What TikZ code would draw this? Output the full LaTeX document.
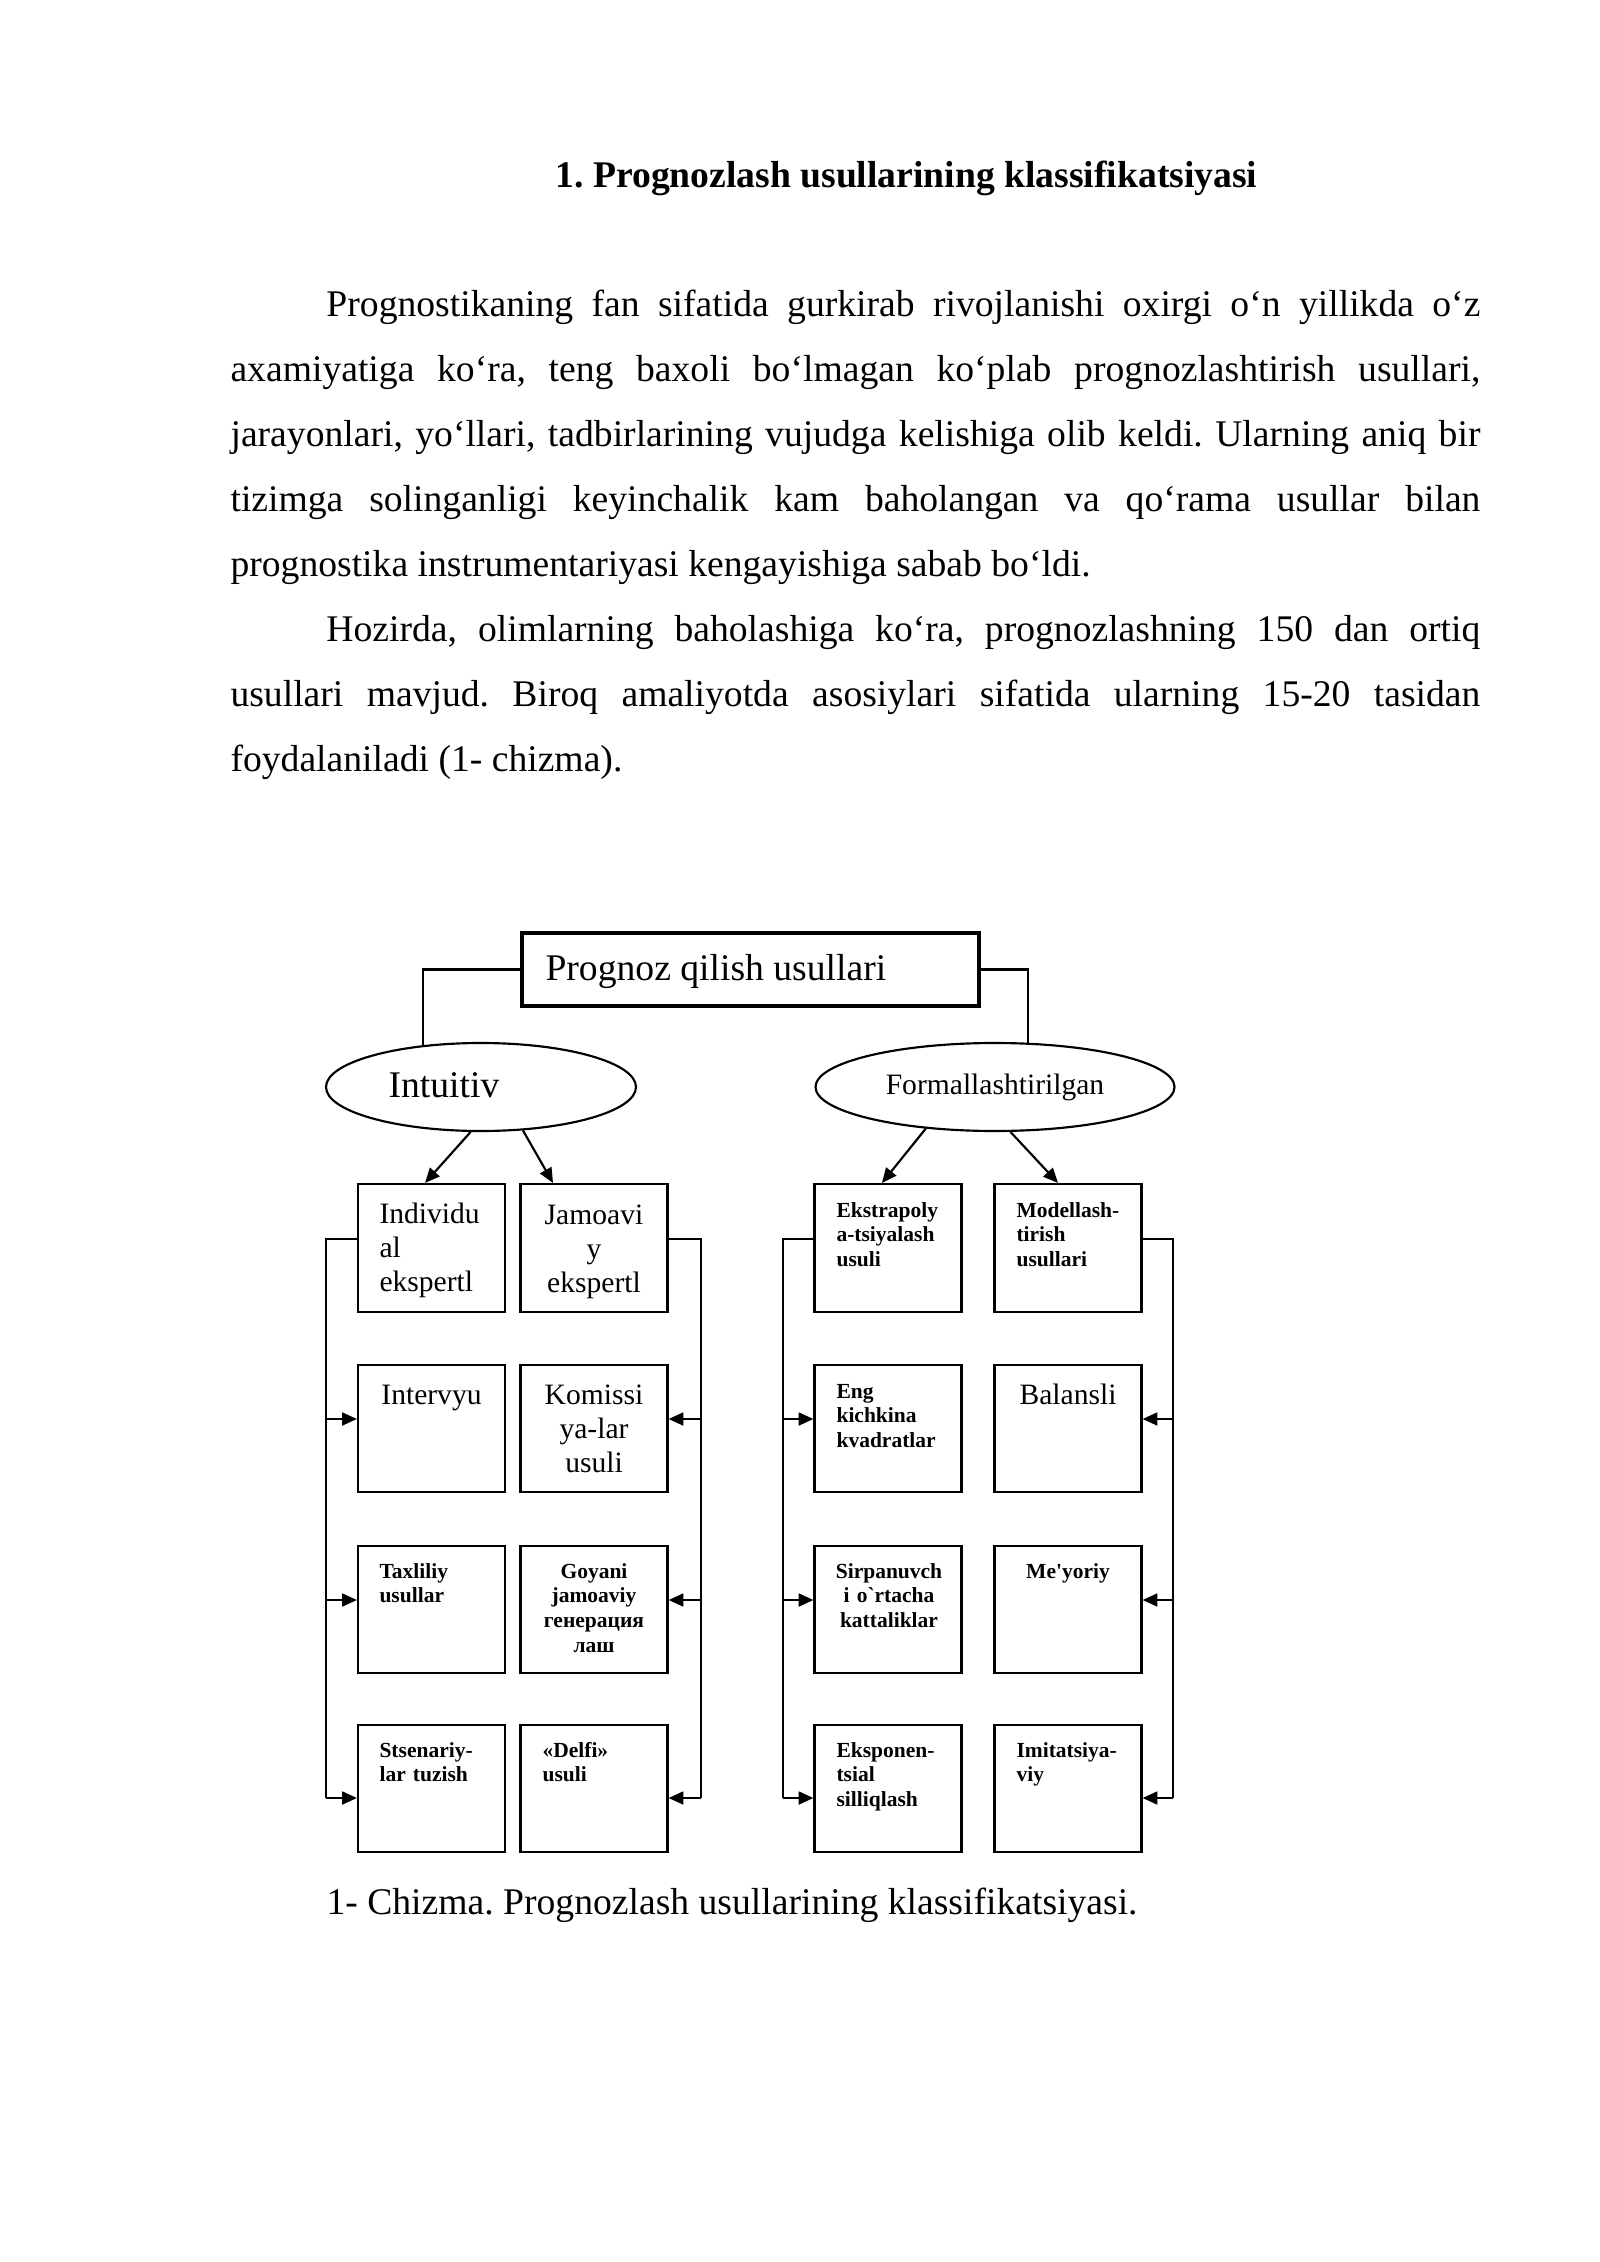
\documentclass[tikz,border=0pt]{standalone}
\usepackage{fontspec}
\setmainfont{Liberation Serif}[Ligatures=TeXOff]
\usetikzlibrary{shapes.geometric,arrows.meta}
\newlength\upx
\setlength\upx{0.37205pt}
\newlength\indw
\setlength\indw{35.7pt}
\hyphenpenalty=10000
\frenchspacing
\begin{document}
\begin{tikzpicture}[x=0.37205pt,y=-0.37205pt]
       \tikzstyle{textnode}=[inner sep=0, font=\fontsize{14}{24.15}\selectfont]
       \tikzstyle{topnode}=[draw, line width=1.5pt, minimum width=457\upx, minimum height=73\upx, inner sep=0]
       \tikzstyle{ovalnode}=[draw, ellipse, line width=0.8pt, minimum height=88\upx, inner sep=0]
       \tikzstyle{boxnode}=[draw, line width=0.8pt, minimum width=147\upx, minimum height=127\upx, inner sep=0]
       \tikzstyle{bignode}=[inner sep=0, text width=120\upx, align=left, font=\fontsize{11}{12.65}\selectfont]
       \tikzstyle{smallnode}=[inner sep=0, text width=120\upx, align=left, font=\fontsize{8}{9.2}\selectfont\bfseries]
       \tikzstyle{busline}=[line width=0.8pt]
       \tikzstyle{arrowline}=[line width=0.8pt, -{Triangle[length=5.5pt,width=4.8pt]}]
       \useasboundingbox (0,0) rectangle (1600,2262);
       % text above the chart
       \node[textnode, anchor=base west, font=\fontsize{14}{24.15}\selectfont\bfseries] (title) at (555,188)
        {1. Prognozlash usullarining klassifikatsiyasi};
       \node[textnode, anchor=base west, text width=465pt, align=justify] (body) at (230,317)
        {\hspace*{\indw}Prognostikaning fan sifatida gurkirab rivojlanishi oxirgi o‘n yillikda o‘z\linebreak
         axamiyatiga ko‘ra, teng baxoli bo‘lmagan ko‘plab prognozlashtirish usullari,\linebreak
         jarayonlari, yo‘llari, tadbirlarining vujudga kelishiga olib keldi. Ularning aniq bir\linebreak
         tizimga solinganligi keyinchalik kam baholangan va qo‘rama usullar bilan\linebreak
         prognostika instrumentariyasi kengayishiga sabab bo‘ldi.\par
         \hspace*{\indw}Hozirda, olimlarning baholashiga ko‘ra, prognozlashning 150 dan ortiq\linebreak
         usullari mavjud. Biroq amaliyotda asosiylari sifatida ularning 15-20 tasidan\linebreak
         foydalaniladi (1- chizma).};
       % top of the chart
       \node[topnode] (top) at (750.5,969.5) {};
       \node[textnode, anchor=base west] (toptxt) at (545,980) {Prognoz qilish usullari};
       \node[ovalnode, minimum width=310\upx] (intu) at (481,1087) {};
       \node[textnode, anchor=base west] (intutxt) at (388,1097) {Intuitiv};
       \node[ovalnode, minimum width=359\upx, font=\fontsize{11}{12.65}\selectfont] (form) at (995,1087) {Formallashtirilgan};
       \draw[busline] (top.west) -| (intu.144);
       \draw[busline] (top.east) -| (form.53);
       % boxes
       \node[boxnode, minimum height=128\upx] (ind) at (431.5,1248) {};
       \node[boxnode, minimum height=128\upx] (jam) at (594,1248) {};
       \node[boxnode] (intv) at (431.5,1428.5) {};
       \node[boxnode] (kom) at (594,1428.5) {};
       \node[boxnode] (tax) at (431.5,1609.5) {};
       \node[boxnode] (goy) at (594,1609.5) {};
       \node[boxnode] (sts) at (431.5,1788.5) {};
       \node[boxnode] (del) at (594,1788.5) {};
       \node[boxnode, minimum height=128\upx] (eks) at (888,1248) {};
       \node[boxnode, minimum height=128\upx] (mod) at (1068,1248) {};
       \node[boxnode] (eng) at (888,1428.5) {};
       \node[boxnode] (bal) at (1068,1428.5) {};
       \node[boxnode] (sir) at (888,1609.5) {};
       \node[boxnode] (mey) at (1068,1609.5) {};
       \node[boxnode] (exs) at (888,1788.5) {};
       \node[boxnode] (imi) at (1068,1788.5) {};
       % box texts
       \node[bignode, anchor=base west] (indtxt) at (379,1223) {Individu\\al\\ekspertl};
       \node[bignode, anchor=base, align=center] (jamtxt) at (594,1224) {Jamoavi\\y\\ekspertl};
       \node[bignode, anchor=base, align=center] (intvtxt) at (431.5,1404) {Intervyu};
       \node[bignode, anchor=base, align=center] (komtxt) at (594,1404) {Komissi\\ya-lar\\usuli};
       \node[smallnode, anchor=base west] (taxtxt) at (379,1578) {Taxliliy\\usullar};
       \node[smallnode, anchor=base, align=center] (goytxt) at (594,1578) {Goyani\\jamoaviy\\генерация\\лаш};
       \node[smallnode, anchor=base west] (ststxt) at (379,1757) {Stsenariy-\\lar tuzish};
       \node[smallnode, anchor=base west] (deltxt) at (542,1757) {«Delfi»\\usuli};
       \node[smallnode, anchor=base west] (ekstxt) at (836,1217) {Ekstrapoly\\a-tsiyalash\\usuli};
       \node[smallnode, anchor=base west] (modtxt) at (1016,1217) {Modellash-\\tirish\\usullari};
       \node[smallnode, anchor=base west] (engtxt) at (836,1398) {Eng\\kichkina\\kvadratlar};
       \node[bignode, anchor=base, align=center] (baltxt) at (1068,1404) {Balansli};
       \node[smallnode, anchor=base, align=center] (sirtxt) at (889,1578) {Sirpanuvch\\i o`rtacha\\kattaliklar};
       \node[smallnode, anchor=base, align=center] (meytxt) at (1068,1578) {Me'yoriy};
       \node[smallnode, anchor=base west] (exstxt) at (836,1757) {Eksponen-\\tsial\\silliqlash};
       \node[smallnode, anchor=base west] (imitxt) at (1016,1757) {Imitatsiya-\\viy};
       % arrows from the ovals
       \draw[arrowline] (intu.-103) -- ([xshift=-6.5\upx]ind.north);
       \draw[arrowline] (intu.-46) -- ([xshift=-41\upx]jam.north);
       \draw[arrowline] (form.-149) -- ([xshift=-6\upx]eks.north);
       \draw[arrowline] (form.-71) -- ([xshift=-10\upx]mod.north);
       % side lines
       \coordinate (la1) at (326,1239);
       \coordinate (la2) at (326,1419);
       \coordinate (la3) at (326,1600);
       \coordinate (la4) at (326,1798);
       \coordinate (lb1) at (701,1239);
       \coordinate (lb2) at (701,1419);
       \coordinate (lb3) at (701,1600);
       \coordinate (lb4) at (701,1798);
       \coordinate (lc1) at (783,1239);
       \coordinate (lc2) at (783,1419);
       \coordinate (lc3) at (783,1600);
       \coordinate (lc4) at (783,1798);
       \coordinate (ld1) at (1173,1239);
       \coordinate (ld2) at (1173,1419);
       \coordinate (ld3) at (1173,1600);
       \coordinate (ld4) at (1173,1798);
       \draw[busline] (la1 -| ind.west) -- (la1) -- (la4);
       \draw[busline] (lb1 -| jam.east) -- (lb1) -- (lb4);
       \draw[busline] (lc1 -| eks.west) -- (lc1) -- (lc4);
       \draw[busline] (ld1 -| mod.east) -- (ld1) -- (ld4);
       \draw[arrowline] (la2) -- (la2 -| intv.west);
       \draw[arrowline] (la3) -- (la3 -| tax.west);
       \draw[arrowline] (la4) -- (la4 -| sts.west);
       \draw[arrowline] (lb2) -- (lb2 -| kom.east);
       \draw[arrowline] (lb3) -- (lb3 -| goy.east);
       \draw[arrowline] (lb4) -- (lb4 -| del.east);
       \draw[arrowline] (lc2) -- (lc2 -| eng.west);
       \draw[arrowline] (lc3) -- (lc3 -| sir.west);
       \draw[arrowline] (lc4) -- (lc4 -| exs.west);
       \draw[arrowline] (ld2) -- (ld2 -| bal.east);
       \draw[arrowline] (ld3) -- (ld3 -| mey.east);
       \draw[arrowline] (ld4) -- (ld4 -| imi.east);
       % caption
       \node[textnode, anchor=base west] (cap) at (326,1914) {1- Chizma. Prognozlash usullarining klassifikatsiyasi.};
      \end{tikzpicture}
\end{document}
